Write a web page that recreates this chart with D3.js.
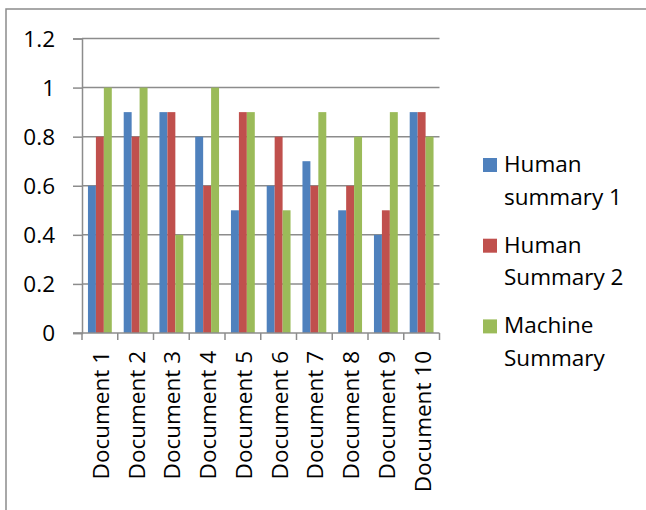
<!DOCTYPE html>
<html>
<head>
<meta charset="utf-8">
<script src="https://cdn.jsdelivr.net/npm/d3@7/dist/d3.min.js"></script>
<style>
  html, body { margin: 0; padding: 0; background: #fff; }
  svg { display: block; }
  text { font-family: "Open Sans", "Noto Sans", sans-serif; fill: #000; }
</style>
</head>
<body>
<svg id="chart" width="646" height="510"></svg>
<script>
// Scores per document for each summary source
const categories = ["Document 1", "Document 2", "Document 3", "Document 4", "Document 5",
                    "Document 6", "Document 7", "Document 8", "Document 9", "Document 10"];
const seriesNames = ["Human summary 1", "Human Summary 2", "Machine Summary"];
const legendLines = [["Human", "summary 1"], ["Human", "Summary 2"], ["Machine", "Summary"]];
const human1  = [0.6, 0.9, 0.9, 0.8, 0.5, 0.6, 0.7, 0.5, 0.4, 0.9];
const human2  = [0.8, 0.8, 0.9, 0.6, 0.9, 0.8, 0.6, 0.6, 0.5, 0.9];
const machine = [1.0, 1.0, 0.4, 1.0, 0.9, 0.5, 0.9, 0.8, 0.9, 0.8];
const yTicks = [0, 0.2, 0.4, 0.6, 0.8, 1, 1.2];
const colors = ["#4F81BD", "#C0504D", "#9BBB59"];

const seriesValues = [human1, human2, machine];
const rows = categories.map((c, i) => ({
  category: c,
  values: seriesNames.map((s, j) => ({ series: s, value: seriesValues[j][i] }))
}));

const svg = d3.select("#chart");
const gridColor = "#8c8c8c";
const fontSize = 22.5;

// Chart frame
svg.append("rect")
  .attr("x", 6).attr("y", 9).attr("width", 700).attr("height", 600)
  .attr("fill", "none").attr("stroke", gridColor).attr("stroke-width", 1.5);

const plot = { left: 82, right: 439.5, top: 38.5, bottom: 333 };

const x0 = d3.scaleBand().domain(categories).range([plot.left, plot.right]).padding(0);
const gapWidth = 1.5; // gap between groups, in bar widths
const barW = x0.bandwidth() / (seriesNames.length + gapWidth);
const x1 = d3.scaleBand().domain(seriesNames)
  .range([barW * gapWidth / 2, barW * gapWidth / 2 + barW * seriesNames.length]).padding(0);
const color = d3.scaleOrdinal().domain(seriesNames).range(colors);
const y = d3.scaleLinear().domain([0, 1.2]).range([plot.bottom, plot.top]);

// Horizontal gridlines
svg.append("g").selectAll("line")
  .data(yTicks.filter(t => t > 0))
  .join("line")
  .attr("x1", plot.left).attr("x2", plot.right)
  .attr("y1", d => y(d)).attr("y2", d => y(d))
  .attr("stroke", gridColor).attr("stroke-width", 1.5);

// Bars
svg.append("g").selectAll("g")
  .data(rows)
  .join("g")
  .attr("transform", d => `translate(${x0(d.category)},0)`)
  .selectAll("rect")
  .data(d => d.values)
  .join("rect")
  .attr("x", d => x1(d.series))
  .attr("width", x1.bandwidth())
  .attr("y", d => y(d.value))
  .attr("height", d => y(0) - y(d.value))
  .attr("fill", d => color(d.series));

// Y axis
const yAxis = svg.append("g")
  .attr("transform", `translate(${plot.left},0)`)
  .call(d3.axisLeft(y).tickValues(yTicks).tickFormat(d3.format("")).tickSize(9).tickPadding(18));
yAxis.select(".domain").attr("stroke", gridColor).attr("stroke-width", 1.5);
yAxis.selectAll(".tick line").attr("stroke", gridColor).attr("stroke-width", 1.5);
yAxis.selectAll(".tick text")
  .attr("font-size", fontSize).attr("font-family", "Open Sans").attr("fill", "#000")
  .attr("dy", "0.34em");

// X axis with boundary ticks between categories
const xAxisG = svg.append("g");
xAxisG.append("line")
  .attr("x1", plot.left - 9).attr("x2", plot.right)
  .attr("y1", plot.bottom).attr("y2", plot.bottom)
  .attr("stroke", gridColor).attr("stroke-width", 1.5);
const boundaries = categories.map(c => x0(c)).concat([plot.right]);
xAxisG.selectAll("line.tick")
  .data(boundaries)
  .join("line").attr("class", "tick")
  .attr("x1", d => d).attr("x2", d => d)
  .attr("y1", plot.bottom).attr("y2", plot.bottom + 7)
  .attr("stroke", gridColor).attr("stroke-width", 1.5);
xAxisG.selectAll("text")
  .data(categories)
  .join("text")
  .attr("transform", d => `translate(${x0(d) + x0.bandwidth() / 2 + 9},${plot.bottom + 18}) rotate(-90)`)
  .attr("text-anchor", "end")
  .attr("font-size", fontSize)
  .text(d => d);

// Legend
const legend = svg.append("g").selectAll("g")
  .data(seriesNames)
  .join("g")
  .attr("transform", (d, i) => `translate(483,${172 + i * 80.7})`);
legend.append("rect")
  .attr("x", 0).attr("y", -14).attr("width", 14).attr("height", 14)
  .attr("fill", d => color(d));
legend.append("text")
  .attr("x", 21).attr("y", 0)
  .attr("font-size", fontSize)
  .selectAll("tspan")
  .data((d, i) => legendLines[i])
  .join("tspan")
  .attr("x", 21)
  .attr("dy", (d, k) => k === 0 ? 0 : 32.5)
  .text(d => d);
</script>
</body>
</html>
